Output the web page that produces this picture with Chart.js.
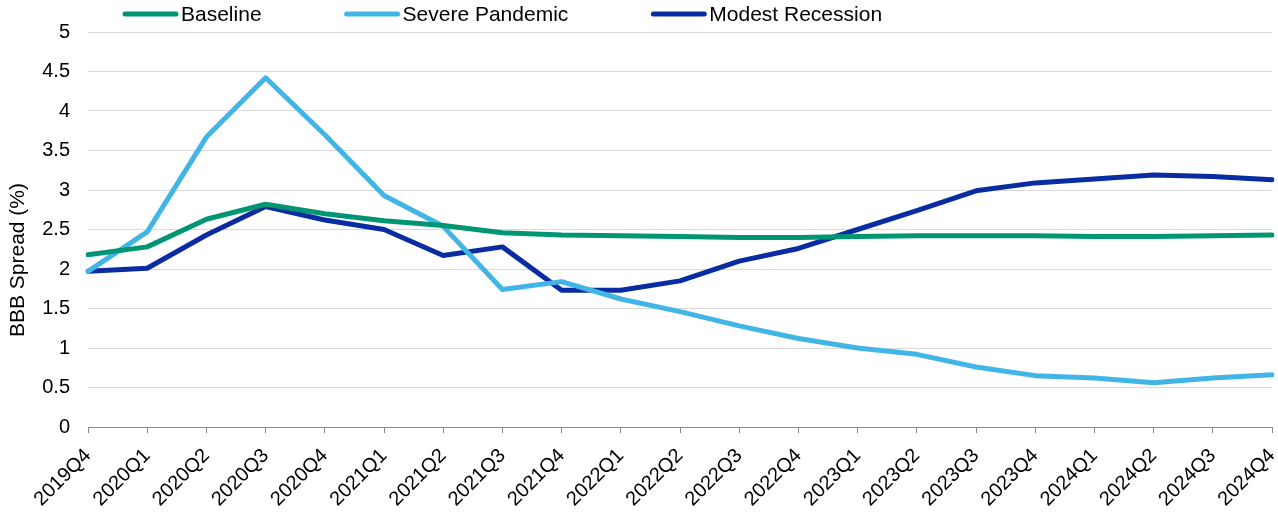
<!DOCTYPE html>
<html>
<head>
<meta charset="utf-8">
<script src="https://cdn.jsdelivr.net/npm/chart.js@4"></script>
<style>
  html, body { margin: 0; padding: 0; background: #fff; }
  #wrap { width: 1278px; height: 513px; }
</style>
</head>
<body>
<div id="wrap"><canvas id="bbb"></canvas></div>
<script>
// quarters on the x axis
var quarters = ['2019Q4','2020Q1','2020Q2','2020Q3','2020Q4','2021Q1','2021Q2','2021Q3','2021Q4',
  '2022Q1','2022Q2','2022Q3','2022Q4','2023Q1','2023Q2','2023Q3','2023Q4','2024Q1','2024Q2','2024Q3','2024Q4'];

// BBB spread (%) per scenario
var baseline  = [2.18, 2.28, 2.63, 2.82, 2.70, 2.61, 2.55, 2.46, 2.43, 2.42, 2.41, 2.40, 2.40, 2.41, 2.42, 2.42, 2.42, 2.41, 2.41, 2.42, 2.43];
var pandemic  = [1.97, 2.47, 3.67, 4.42, 3.70, 2.93, 2.54, 1.74, 1.84, 1.62, 1.46, 1.28, 1.12, 1.00, 0.92, 0.76, 0.65, 0.62, 0.56, 0.62, 0.66];
var recession = [1.97, 2.01, 2.43, 2.79, 2.62, 2.50, 2.17, 2.28, 1.73, 1.73, 1.85, 2.10, 2.26, 2.50, 2.74, 2.99, 3.09, 3.14, 3.19, 3.17, 3.13];

var yTicks = [0, 0.5, 1, 1.5, 2, 2.5, 3, 3.5, 4, 4.5, 5];

var FONT = "'Liberation Sans', Arial, sans-serif";

// legend + y title drawn by hand so they sit where the original has them
var extras = {
  id: 'extras',
  afterDraw: function(chart) {
    var ctx = chart.ctx;
    ctx.save();
    ctx.font = '21px ' + FONT;
    ctx.textBaseline = 'middle';
    var x = 123, y = 14;
    chart.data.datasets.forEach(function(ds) {
      ctx.strokeStyle = ds.borderColor;
      ctx.lineWidth = 5;
      ctx.lineCap = 'round';
      ctx.beginPath();
      ctx.moveTo(x + 2, y);
      ctx.lineTo(x + 53, y);
      ctx.stroke();
      ctx.fillStyle = '#000';
      ctx.textAlign = 'left';
      ctx.fillText(ds.label, x + 58, y + 1);
      x += 58 + ctx.measureText(ds.label).width + 83;
    });

    ctx.translate(18, 260);
    ctx.rotate(-Math.PI / 2);
    ctx.textAlign = 'center';
    ctx.font = '21px ' + FONT;
    ctx.fillText('BBB Spread (%)', 0, 0);
    ctx.restore();
  }
};

var ctx = document.getElementById('bbb');
var myChart = new Chart(ctx, {
  type: 'line',
  data: {
    labels: quarters,
    datasets: [
      { label: 'Baseline', data: baseline, borderColor: '#009673' },
      { label: 'Severe Pandemic', data: pandemic, borderColor: '#41b6e6' },
      { label: 'Modest Recession', data: recession, borderColor: '#0a2ca2' }
    ]
  },
  options: {
    responsive: true,
    maintainAspectRatio: false,
    animation: false,
    layout: { padding: { top: 32, right: 6, left: 0, bottom: 0 } },
    elements: {
      line: { borderWidth: 5, tension: 0, borderCapStyle: 'round', borderJoinStyle: 'round', fill: false },
      point: { radius: 0, hoverRadius: 0 }
    },
    plugins: {
      legend: { display: false },
      tooltip: { enabled: false }
    },
    scales: {
      x: {
        offset: false,
        afterFit: function(s) { s.height = 86; s.paddingRight = 0; s.paddingLeft = 0; },
        grid: { drawOnChartArea: false, drawTicks: true, tickLength: 6, color: '#898989' },
        border: { display: true, color: '#898989', width: 1 },
        ticks: {
          autoSkip: false,
          minRotation: 45,
          maxRotation: 45,
          padding: 11,
          color: '#000',
          font: { family: FONT, size: 20 }
        }
      },
      y: {
        min: 0,
        max: 5,
        afterFit: function(s) { s.width = 88; },
        afterBuildTicks: function(s) { s.ticks = yTicks.map(function(v) { return { value: v }; }); },
        grid: { color: '#d9d9d9', drawTicks: false, lineWidth: 1 },
        border: { display: false },
        ticks: {
          padding: 18,
          color: '#000',
          font: { family: FONT, size: 20 },
          callback: function(v) { return String(v); }
        }
      }
    }
  },
  plugins: [extras]
});
</script>
</body>
</html>
